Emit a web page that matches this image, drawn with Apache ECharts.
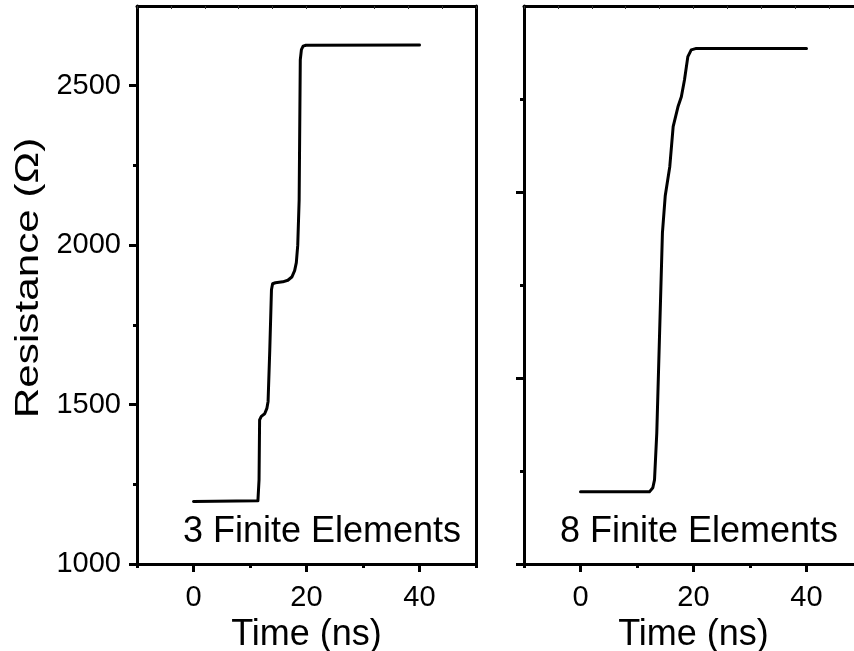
<!DOCTYPE html>
<html>
<head>
<meta charset="utf-8">
<script src="https://cdn.jsdelivr.net/npm/echarts@6/dist/echarts.min.js"></script>
<style>html,body{margin:0;padding:0;background:#fff}#c{width:854px;height:651px}</style>
</head>
<body>
<div id="c"></div>
<script>
// ---- data ----
const timeFE3 = [0, 11.4, 11.6, 11.7, 12.0, 12.6, 13.0, 13.2, 13.5, 13.8, 14.0, 14.5, 15.8, 16.7, 17.4, 17.9, 18.2, 18.45, 18.7, 18.9, 19.1, 19.4, 19.9, 40];
const resFE3  = [1196, 1198, 1264, 1452, 1463, 1471, 1489, 1510, 1671, 1860, 1879, 1882, 1885, 1890, 1900, 1920, 1945, 2000, 2142, 2581, 2613, 2624, 2627, 2628];
const timeFE8 = [0, 12.2, 12.8, 13.1, 13.5, 14.0, 14.5, 15.0, 15.8, 16.4, 17.25, 17.85, 18.4, 19.0, 19.6, 20.5, 40];
const resFE8  = [1194, 1194, 1205, 1226, 1352, 1621, 1890, 1990, 2068, 2176, 2229, 2256, 2301, 2364, 2382, 2386, 2386];
const xMajor = [0, 20, 40];
const xMinor = [-10, 10, 30, 50];
const yMajorL = [1000, 1500, 2000, 2500];
const yMinorL = [1250, 1750, 2250];
const yMajorR = [1000, 1500, 2000];
const yMinorR = [1250, 1750, 2250];
const panelLabels = ['3 Finite Elements', '8 Finite Elements'];
const yTitle = 'Resistance (Ω)';
const xTitle = 'Time (ns)';

const FONT = "'Liberation Sans', Arial, sans-serif";
const K = '#000';

function pairs(xs, ys) { return xs.map((x, i) => [x, ys[i]]); }

const grids = [
  { left: 137, top: 6, width: 339, height: 558, outerBoundsMode: 'none' },
  { left: 524, top: 6, width: 339, height: 558, outerBoundsMode: 'none' }
];

const xAxes = [];
const yAxes = [];
[0, 1].forEach(g => {
  xAxes.push({
    gridIndex: g, type: 'value', position: 'bottom', min: -10, max: 50,
    axisLine: { onZero: false, lineStyle: { color: K, width: 3 } },
    axisTick: { customValues: xMajor, length: 8, lineStyle: { color: K, width: 3 } },
    axisLabel: { customValues: xMajor, fontSize: 29, color: K, fontFamily: FONT, margin: 19, formatter: v => String(v) },
    splitLine: { show: false },
    name: xTitle, nameLocation: 'middle', nameGap: 48,
    nameTextStyle: { fontSize: 36, color: K, fontFamily: FONT }
  });
  xAxes.push({
    gridIndex: g, type: 'value', position: 'bottom', min: -10, max: 50,
    axisLine: { show: false, onZero: false },
    axisTick: { customValues: xMinor, length: 4, lineStyle: { color: K, width: 3 } },
    axisLabel: { show: false }, splitLine: { show: false }
  });
  xAxes.push({
    gridIndex: g, type: 'value', position: 'top', min: 0, max: 10, interval: 1,
    axisLine: { onZero: false, lineStyle: { color: K, width: 3 } },
    axisTick: { inside: true, length: 3, lineStyle: { color: '#333', width: 1 } },
    axisLabel: { show: false }, splitLine: { show: false }
  });
  const ymax = g === 0 ? 2750 : 2500;
  const maj = g === 0 ? yMajorL : yMajorR;
  const mnr = g === 0 ? yMinorL : yMinorR;
  yAxes.push({
    gridIndex: g, type: 'value', position: 'left', min: 1000, max: ymax,
    axisLine: { onZero: false, lineStyle: { color: K, width: 3 } },
    axisTick: { customValues: maj, length: 8, lineStyle: { color: K, width: 3 } },
    axisLabel: { show: g === 0, customValues: maj, fontSize: 29, color: K, fontFamily: FONT, margin: 16, formatter: v => String(v) },
    splitLine: { show: false }
  });
  yAxes.push({
    gridIndex: g, type: 'value', position: 'left', min: 1000, max: ymax,
    axisLine: { show: false, onZero: false },
    axisTick: { customValues: mnr, length: 4, lineStyle: { color: K, width: 3 } },
    axisLabel: { show: false }, splitLine: { show: false }
  });
  yAxes.push({
    gridIndex: g, type: 'value', position: 'right', min: 1000, max: ymax,
    axisLine: { show: true, onZero: false, lineStyle: { color: K, width: 3 } },
    axisTick: { show: false }, axisLabel: { show: false }, splitLine: { show: false }
  });
});

const lineStyle = { color: K, width: 3, join: 'round', cap: 'round' };
const series = [
  { type: 'line', xAxisIndex: 0, yAxisIndex: 0, data: pairs(timeFE3, resFE3), showSymbol: false, symbol: 'none', lineStyle, animation: false },
  { type: 'line', xAxisIndex: 3, yAxisIndex: 3, data: pairs(timeFE8, resFE8), showSymbol: false, symbol: 'none', lineStyle, animation: false }
];

const chart = echarts.init(document.getElementById('c'), null, { renderer: 'canvas' });
chart.setOption({
  backgroundColor: '#fff',
  animation: false,
  grid: grids,
  xAxis: xAxes,
  yAxis: yAxes,
  series: series,
  graphic: [
    { type: 'text', left: 183, top: 514, style: { text: panelLabels[0], font: "36px " + FONT, fill: K } },
    { type: 'text', left: 560, top: 514, style: { text: panelLabels[1], font: "36px " + FONT, fill: K } },
    { type: 'text', x: 29, y: 278, rotation: Math.PI / 2, scaleX: 1.28, scaleY: 1,
      style: { text: yTitle, font: "33px " + FONT, fill: K, align: 'center', verticalAlign: 'middle' } }
  ]
});
</script>
</body>
</html>
